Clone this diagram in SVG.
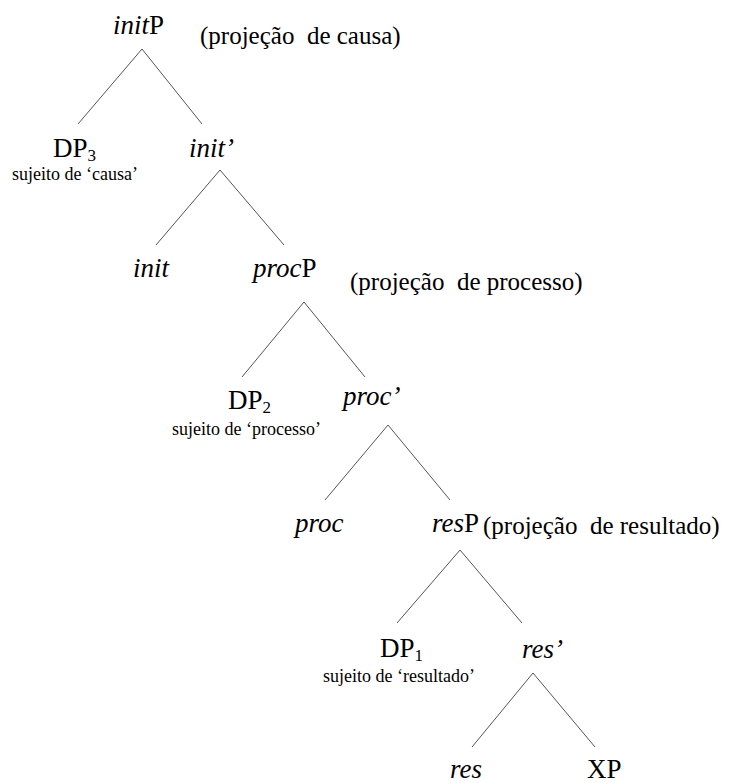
<svg xmlns="http://www.w3.org/2000/svg" width="734" height="783" viewBox="0 0 734 783" font-family="'Liberation Serif', serif">
  <style>
    text { font-family: 'Liberation Serif', serif; fill: #000; }
    .lbl { font-size: 27px; }
    .it { font-style: italic; }
    .note { font-size: 25px; }
    .sub { font-size: 17px; }
    .desc { font-size: 18px; }
    .edge { stroke: #555; stroke-width: 1; fill: none; }
  </style>
  <rect width="734" height="783" fill="#fff"/>

  <!-- tree branches -->
  <g id="connectors">
    <line class="edge" x1="142" y1="49" x2="78" y2="124"/>
    <line class="edge" x1="142" y1="49" x2="202" y2="124"/>
    <line class="edge" x1="220" y1="170" x2="156" y2="245"/>
    <line class="edge" x1="220" y1="170" x2="284" y2="245"/>
    <line class="edge" x1="304" y1="302" x2="242" y2="377"/>
    <line class="edge" x1="304" y1="302" x2="365" y2="377"/>
    <line class="edge" x1="388" y1="425" x2="325" y2="500"/>
    <line class="edge" x1="388" y1="425" x2="450" y2="500"/>
    <line class="edge" x1="460" y1="550" x2="397" y2="623"/>
    <line class="edge" x1="460" y1="550" x2="522" y2="623"/>
    <line class="edge" x1="533" y1="673" x2="472" y2="747"/>
    <line class="edge" x1="533" y1="673" x2="595" y2="747"/>
  </g>

  <g id="initP">
    <text class="lbl" x="113" y="34"><tspan class="it">init</tspan>P</text>
    <text class="note" x="200" y="44">(projeção&#160; de causa)</text>
  </g>
  <g id="DP3">
    <text class="lbl" x="53" y="157">DP<tspan class="sub" dy="4">3</tspan></text>
    <text class="desc" x="12" y="180">sujeito de ‘causa’</text>
  </g>
  <g id="init-bar">
    <text class="lbl it" x="189" y="157">init’</text>
  </g>
  <g id="init">
    <text class="lbl it" x="133" y="277">init</text>
  </g>
  <g id="procP">
    <text class="lbl" x="253" y="277"><tspan class="it">proc</tspan>P</text>
    <text class="note" x="350" y="290">(projeção&#160; de processo)</text>
  </g>
  <g id="DP2">
    <text class="lbl" x="228" y="409">DP<tspan class="sub" dy="4">2</tspan></text>
    <text class="desc" x="172" y="435">sujeito de ‘processo’</text>
  </g>
  <g id="proc-bar">
    <text class="lbl it" x="343" y="405">proc’</text>
  </g>
  <g id="proc">
    <text class="lbl it" x="295" y="532">proc</text>
  </g>
  <g id="resP">
    <text class="lbl" x="432" y="532"><tspan class="it">res</tspan>P</text>
    <text class="note" x="483" y="534">(projeção&#160; de resultado)</text>
  </g>
  <g id="DP1">
    <text class="lbl" x="380" y="657">DP<tspan class="sub" dy="4">1</tspan></text>
    <text class="desc" x="323" y="682">sujeito de ‘resultado’</text>
  </g>
  <g id="res-bar">
    <text class="lbl it" x="522" y="658">res’</text>
  </g>
  <g id="res">
    <text class="lbl it" x="450" y="778">res</text>
  </g>
  <g id="XP">
    <text class="lbl" x="587" y="778">XP</text>
  </g>
</svg>
